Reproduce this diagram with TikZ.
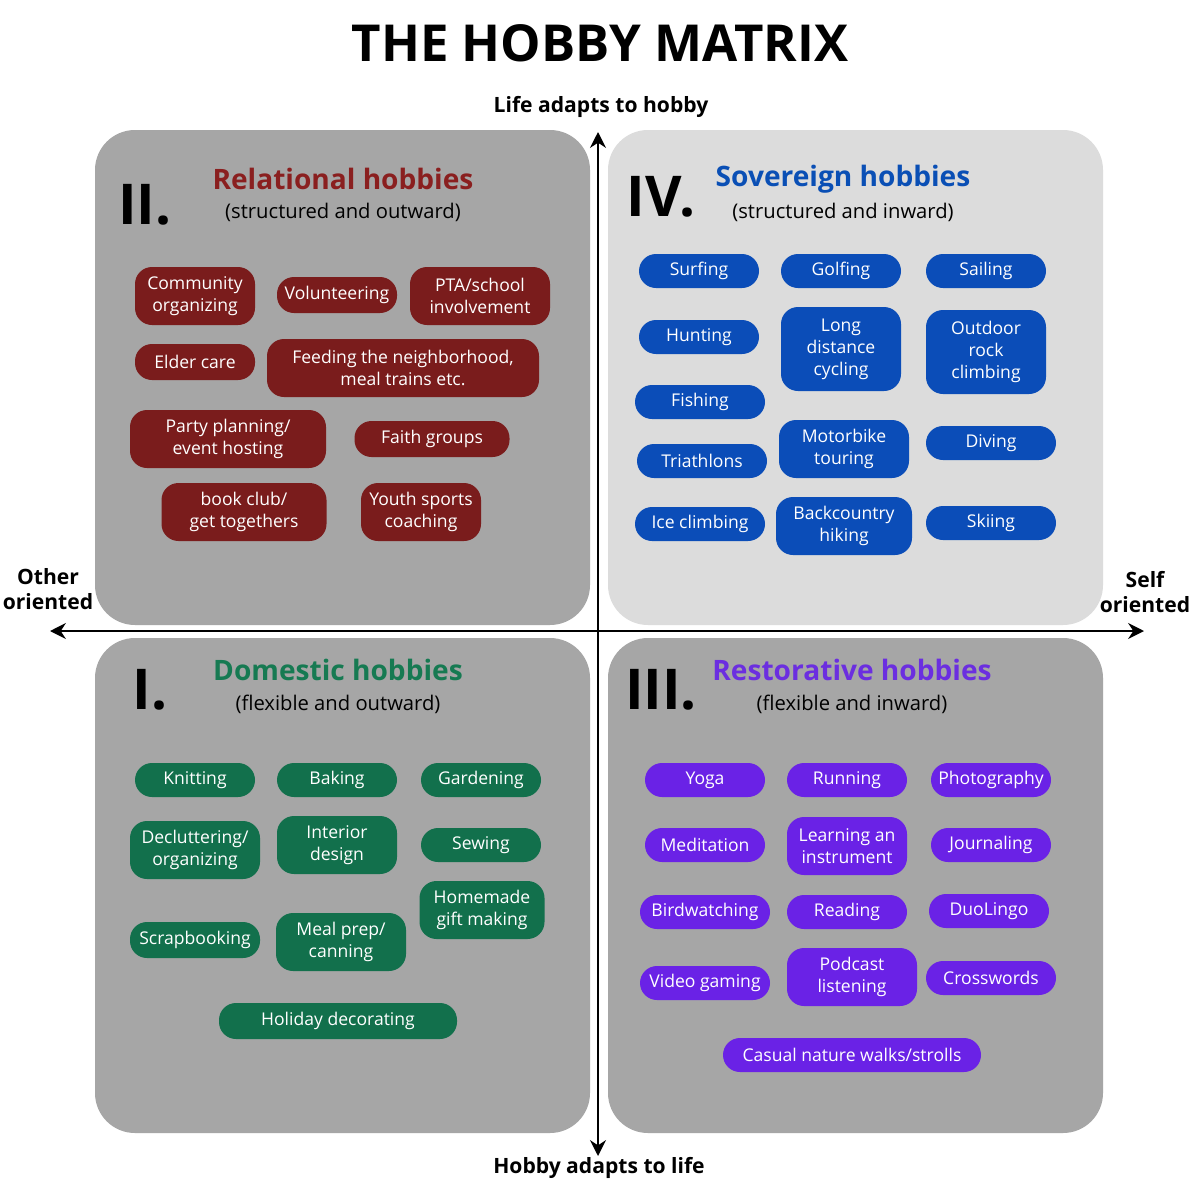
\documentclass[tikz,border=0pt]{standalone}
\usepackage{fontspec}
\setmainfont{Open Sans}
\usetikzlibrary{arrows.meta}
\definecolor{pred}{HTML}{7A1C1C}
\definecolor{pblue}{HTML}{0B4DB8}
\definecolor{pgreen}{HTML}{12704C}
\definecolor{ppurple}{HTML}{6A22E6}
\definecolor{tred}{HTML}{8A1F1F}
\definecolor{tblue}{HTML}{0A4FB5}
\definecolor{tgreen}{HTML}{167A52}
\definecolor{tpurple}{HTML}{6B2EE0}
\definecolor{darkpanel}{HTML}{A6A6A6}
\definecolor{lightpanel}{HTML}{DCDCDC}
\tikzset{
 pill/.style={draw=none,rounded corners=0.34cm,text=white,align=center,inner sep=1pt,font=\fontsize{10}{12.5}\selectfont},
 panel/.style={rounded corners=0.8cm,draw=none},
 head/.style={font=\bfseries\fontsize{16}{18}\selectfont},
 sub/.style={font=\fontsize{11.5}{13}\selectfont},
 roman/.style={font=\bfseries\fontsize{32}{34}\selectfont},
 axlab/.style={font=\bfseries\fontsize{12}{14.5}\selectfont,align=center},
 ax/.style={line width=1.6pt,-{Stealth[length=9pt,width=9pt]}}
}
\newcommand\pl[7]{\node[pill,fill=#1,minimum width=#4*0.02cm,minimum height=#5*0.02cm] (#6) at (#2,#3) {#7};}
\begin{document}
\begin{tikzpicture}[x=0.02cm,y=-0.02cm]
\useasboundingbox[fill=white] (0,0) rectangle (1200,1200);
\node[font=\bfseries\fontsize{29}{32}\selectfont] (title) at (600,43) {THE HOBBY MATRIX};
% panels
\fill[panel,darkpanel] (95,130) rectangle (590,625);
\fill[panel,lightpanel] (608,130) rectangle (1103,625);
\fill[panel,darkpanel] (95,638) rectangle (590,1133);
\fill[panel,darkpanel] (608,638) rectangle (1103,1133);
% axes
\coordinate (L) at (50,631); \coordinate (R) at (1144,631);
\coordinate (T) at (598,132); \coordinate (B) at (598,1156);
\coordinate (C) at (598,631);
\draw[ax] (C) -- (L); \draw[ax] (C) -- (R);
\draw[ax] (C) -- (T); \draw[ax] (C) -- (B);
\node[axlab] (lt) at (601,107) {Life adapts to hobby};
\node[axlab] (lb) at (599,1168) {Hobby adapts to life};
\node[axlab] (ll) at (48,589) {Other\\oriented};
\node[axlab] (lr) at (1145,592) {Self\\oriented};
% headers
\node[roman] (r2) at (145,205) {II.};
\node[head,text=tred] (h2) at (343,179) {Relational hobbies};
\node[sub] (s2) at (343,212) {(structured and outward)};
\node[roman] (r4) at (661,197) {IV.};
\node[head,text=tblue] (h4) at (843,179) {Sovereign hobbies};
\node[sub] (s4) at (843,212) {(structured and inward)};
\node[roman] (r1) at (150,690) {I.};
\node[head,text=tgreen] (h1) at (338,670) {Domestic hobbies};
\node[sub] (s1) at (338,704) {(flexible and outward)};
\node[roman] (r3) at (661,690) {III.};
\node[head,text=tpurple] (h3) at (852,670) {Restorative hobbies};
\node[sub] (s3) at (852,704) {(flexible and inward)};
% II
\pl{pred}{195}{296}{120}{58}{a1}{Community\\organizing}
\pl{pred}{337}{295}{120}{36}{a2}{Volunteering}
\pl{pred}{480}{296}{140}{58}{a3}{PTA/school\\involvement}
\pl{pred}{195}{362}{120}{36}{a4}{Elder care}
\pl{pred}{403}{368}{272}{58}{a5}{Feeding the neighborhood,\\meal trains etc.}
\pl{pred}{228}{439}{196}{58}{a6}{Party planning/\\event hosting}
\pl{pred}{432}{439}{155}{36}{a7}{Faith groups}
\pl{pred}{244}{512}{165}{58}{a8}{book club/\\get togethers}
\pl{pred}{421}{512}{120}{58}{a9}{Youth sports\\coaching}
% IV
\pl{pblue}{699}{271}{120}{34}{b1}{Surfing}
\pl{pblue}{841}{271}{120}{34}{b2}{Golfing}
\pl{pblue}{986}{271}{120}{34}{b3}{Sailing}
\pl{pblue}{699}{337}{120}{34}{b4}{Hunting}
\pl{pblue}{841}{349}{120}{84}{b5}{Long\\distance\\cycling}
\pl{pblue}{986}{352}{120}{84}{b6}{Outdoor\\rock\\climbing}
\pl{pblue}{700}{402}{130}{34}{b7}{Fishing}
\pl{pblue}{702}{461}{130}{34}{b8}{Triathlons}
\pl{pblue}{844}{449}{130}{58}{b9}{Motorbike\\touring}
\pl{pblue}{991}{443}{130}{34}{b10}{Diving}
\pl{pblue}{700}{524}{130}{34}{b11}{Ice climbing}
\pl{pblue}{844}{526}{136}{58}{b12}{Backcountry\\hiking}
\pl{pblue}{991}{523}{130}{34}{b13}{Skiing}
% I
\pl{pgreen}{195}{780}{120}{34}{c1}{Knitting}
\pl{pgreen}{337}{780}{120}{34}{c2}{Baking}
\pl{pgreen}{481}{780}{120}{34}{c3}{Gardening}
\pl{pgreen}{195}{850}{130}{58}{c4}{Decluttering/\\organizing}
\pl{pgreen}{337}{845}{120}{58}{c5}{Interior\\design}
\pl{pgreen}{481}{845}{120}{34}{c6}{Sewing}
\pl{pgreen}{482}{910}{125}{58}{c7}{Homemade\\gift making}
\pl{pgreen}{195}{940}{130}{36}{c8}{Scrapbooking}
\pl{pgreen}{341}{942}{130}{58}{c9}{Meal prep/\\canning}
\pl{pgreen}{338}{1021}{238}{36}{c10}{Holiday decorating}
% III
\pl{ppurple}{705}{780}{120}{34}{d1}{Yoga}
\pl{ppurple}{847}{780}{120}{34}{d2}{Running}
\pl{ppurple}{991}{780}{120}{34}{d3}{Photography}
\pl{ppurple}{705}{845}{120}{34}{d4}{Meditation}
\pl{ppurple}{847}{846}{120}{58}{d5}{Learning an\\instrument}
\pl{ppurple}{991}{845}{120}{34}{d6}{Journaling}
\pl{ppurple}{705}{912}{130}{34}{d7}{Birdwatching}
\pl{ppurple}{847}{912}{120}{34}{d8}{Reading}
\pl{ppurple}{989}{911}{120}{34}{d9}{DuoLingo}
\pl{ppurple}{705}{983}{130}{34}{d10}{Video gaming}
\pl{ppurple}{852}{977}{130}{58}{d11}{Podcast\\listening}
\pl{ppurple}{991}{978}{130}{34}{d12}{Crosswords}
\pl{ppurple}{852}{1055}{258}{34}{d13}{Casual nature walks/strolls}
\end{tikzpicture}
\end{document}
